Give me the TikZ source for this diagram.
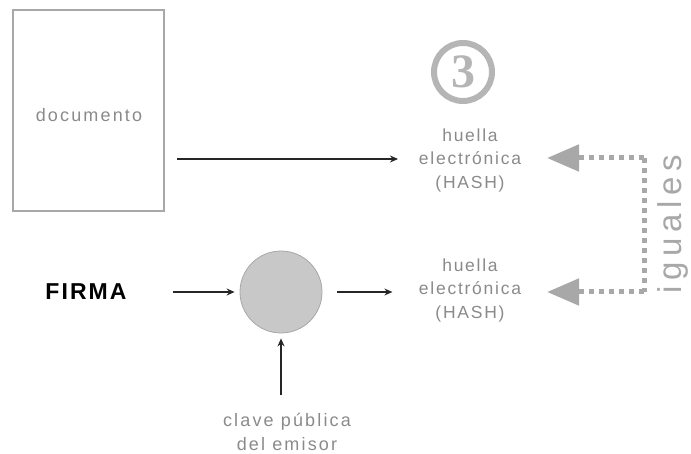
\documentclass[tikz,border=0pt]{standalone}
\usepackage{fontspec}
\setmainfont{Liberation Sans}
\newfontfamily\spaced[LetterSpace=10]{Liberation Sans}
\newfontfamily\wide[LetterSpace=12]{Liberation Sans}
\newfontfamily\widest[LetterSpace=17]{Liberation Sans}
\newfontfamily\boldspaced[LetterSpace=9]{Liberation Sans}
\newfontfamily\numfont{Liberation Serif}
\usetikzlibrary{arrows.meta}
\definecolor{txtgray}{HTML}{8A8A8A}
\definecolor{lgray}{HTML}{A8A8A8}
\definecolor{circfill}{HTML}{C8C8C8}
\tikzset{
  lighttext/.style={text=txtgray, font=\spaced\fontsize{17.5}{23.5}\selectfont, align=center, inner sep=0pt},
  arr/.style={draw=black!85, line width=1.3pt, -{Stealth[length=8pt,width=7pt]}},
  dotline/.style={draw=lgray, line width=5pt, dash pattern=on 5pt off 5pt},
  bigtip/.style={-{Triangle[length=32pt,width=26pt]}},
}
\begin{document}
\begin{tikzpicture}[x=1pt,y=-1pt]
\useasboundingbox (0,0) rectangle (691,454);
% document box
\node[draw=lgray, line width=1.5pt, minimum width=151pt, minimum height=201pt, inner sep=0pt] (doc) at (88.5,110.5) {};
\node[text=txtgray, font=\wide\fontsize{18}{18}\selectfont, inner sep=0pt] (doctxt) at (89,115) {documento};
% circled 3
\node[circle, draw=lgray!85, line width=6pt, minimum size=58pt, inner sep=0pt,
      text=lgray!85, font=\numfont\bfseries\fontsize{48}{48}\selectfont] (num) at (463,72) {3};
% hash nodes
\node[lighttext] (hash1) at (470,160) {huella\\electrónica\\(HASH)};
\node[lighttext] (hash2) at (470,290) {huella\\electrónica\\(HASH)};
% FIRMA
\node[font=\boldspaced\bfseries\fontsize{23}{23}\selectfont, inner sep=0pt] (firma) at (86,292) {FIRMA};
% circle
\node[circle, fill=circfill, draw=lgray, line width=0.8pt, minimum size=82pt, inner sep=0pt] (circ) at (281,292) {};
% clave
\node[text=txtgray, font=\wide\fontsize{18}{23.5}\selectfont, align=center, inner sep=0pt] (clave) at (287,432) {clave pública\\del emisor};
% iguales
\node[text=lgray, font=\widest\fontsize{33}{33}\selectfont, rotate=90, inner sep=0pt] (igu) at (673,224) {iguales};
% corners and tips of dotted connector
\coordinate (c1) at (644,158);
\coordinate (c2) at (644,292);
\coordinate (t1) at (547,158);
\coordinate (t2) at (547,292);
\coordinate (s1) at (177,159);
\coordinate (e1) at (398,159);
% connectors
\draw[arr] (s1) -- (e1);
\draw[arr] ([xshift=46pt]firma.east) -- ([xshift=-5pt]circ.west);
\draw[arr] ([xshift=15pt]circ.east) -- ([xshift=70pt]circ.east);
\draw[arr] ([yshift=-62pt]circ.south) -- ([yshift=-5pt]circ.south);
\draw[dotline] (c1) -- (c2);
\draw[dotline, bigtip] (c1) -- (t1);
\draw[dotline, bigtip] (c2) -- (t2);
\end{tikzpicture}
\end{document}
